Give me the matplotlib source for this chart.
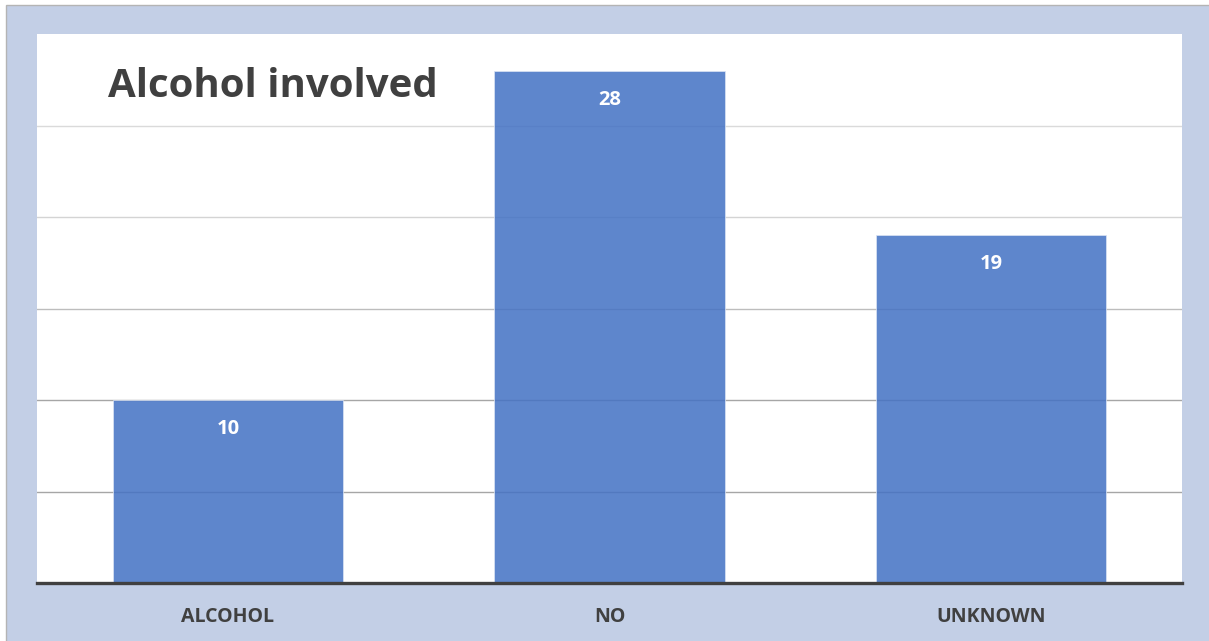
import matplotlib.pyplot as plt
from matplotlib.patches import Rectangle

categorias = ["ALCOHOL", "NO", "UNKNOWN"]
valores = [10, 28, 19]
linhas_grade = [5, 10, 15, 20, 25]

cor_grade = {5: "#a6a6a6", 10: "#a6a6a6", 15: "#bdbdbd", 20: "#d4d4d4", 25: "#dadada"}
cor_fundo = "#c3cfe6"
cor_texto = "#404040"

plt.rcParams["font.family"] = ["Open Sans", "DejaVu Sans"]

fig = plt.figure(figsize=(12.09, 6.41), dpi=100, facecolor="white")
W, H = 1209, 641

# moldura azul com borda cinza fina no topo e na esquerda
fig.patches.append(Rectangle((6 / W, -0.05), 1.0, (H - 5) / H + 0.05, transform=fig.transFigure,
                             facecolor=cor_fundo, edgecolor="#b4b4b4", linewidth=1.0,
                             zorder=-10))

ax = fig.add_axes([37 / W, (H - 583) / H, 1145 / W, (583 - 34) / H])
ax.set_facecolor("white")

x = range(len(categorias))
for v in linhas_grade:
    ax.axhline(v, color=cor_grade[v], linewidth=1.0, zorder=1)

barras = ax.bar(x, valores, width=0.603, color="#4472c4", alpha=0.86, zorder=2,
                edgecolor="#dbe4f4", linewidth=0.6)

for xi, v in zip(x, valores):
    ax.annotate(str(v), (xi, v), xytext=(0, -29), textcoords="offset pixels",
                ha="center", va="center", color="white", fontsize=14.5,
                fontweight="bold", zorder=3)

ax.set_xlim(-0.5, 2.5)
ax.set_ylim(0, 30)
ax.set_yticks([])
ax.set_xticks(list(x))
ax.set_xticklabels(categorias, fontsize=14, fontweight="bold", color=cor_texto)
ax.tick_params(axis="x", length=0, pad=17)

for lado in ["top", "left", "right"]:
    ax.spines[lado].set_visible(False)
ax.spines["bottom"].set_color(cor_texto)
ax.spines["bottom"].set_linewidth(2.4)
ax.spines["bottom"].set_zorder(4)

ax.text(0.062, 0.885, "Alcohol involved", transform=ax.transAxes, fontsize=29,
        fontweight="bold", color=cor_texto, ha="left", va="baseline")

fig.savefig("out.png", dpi=100, facecolor=fig.get_facecolor())
